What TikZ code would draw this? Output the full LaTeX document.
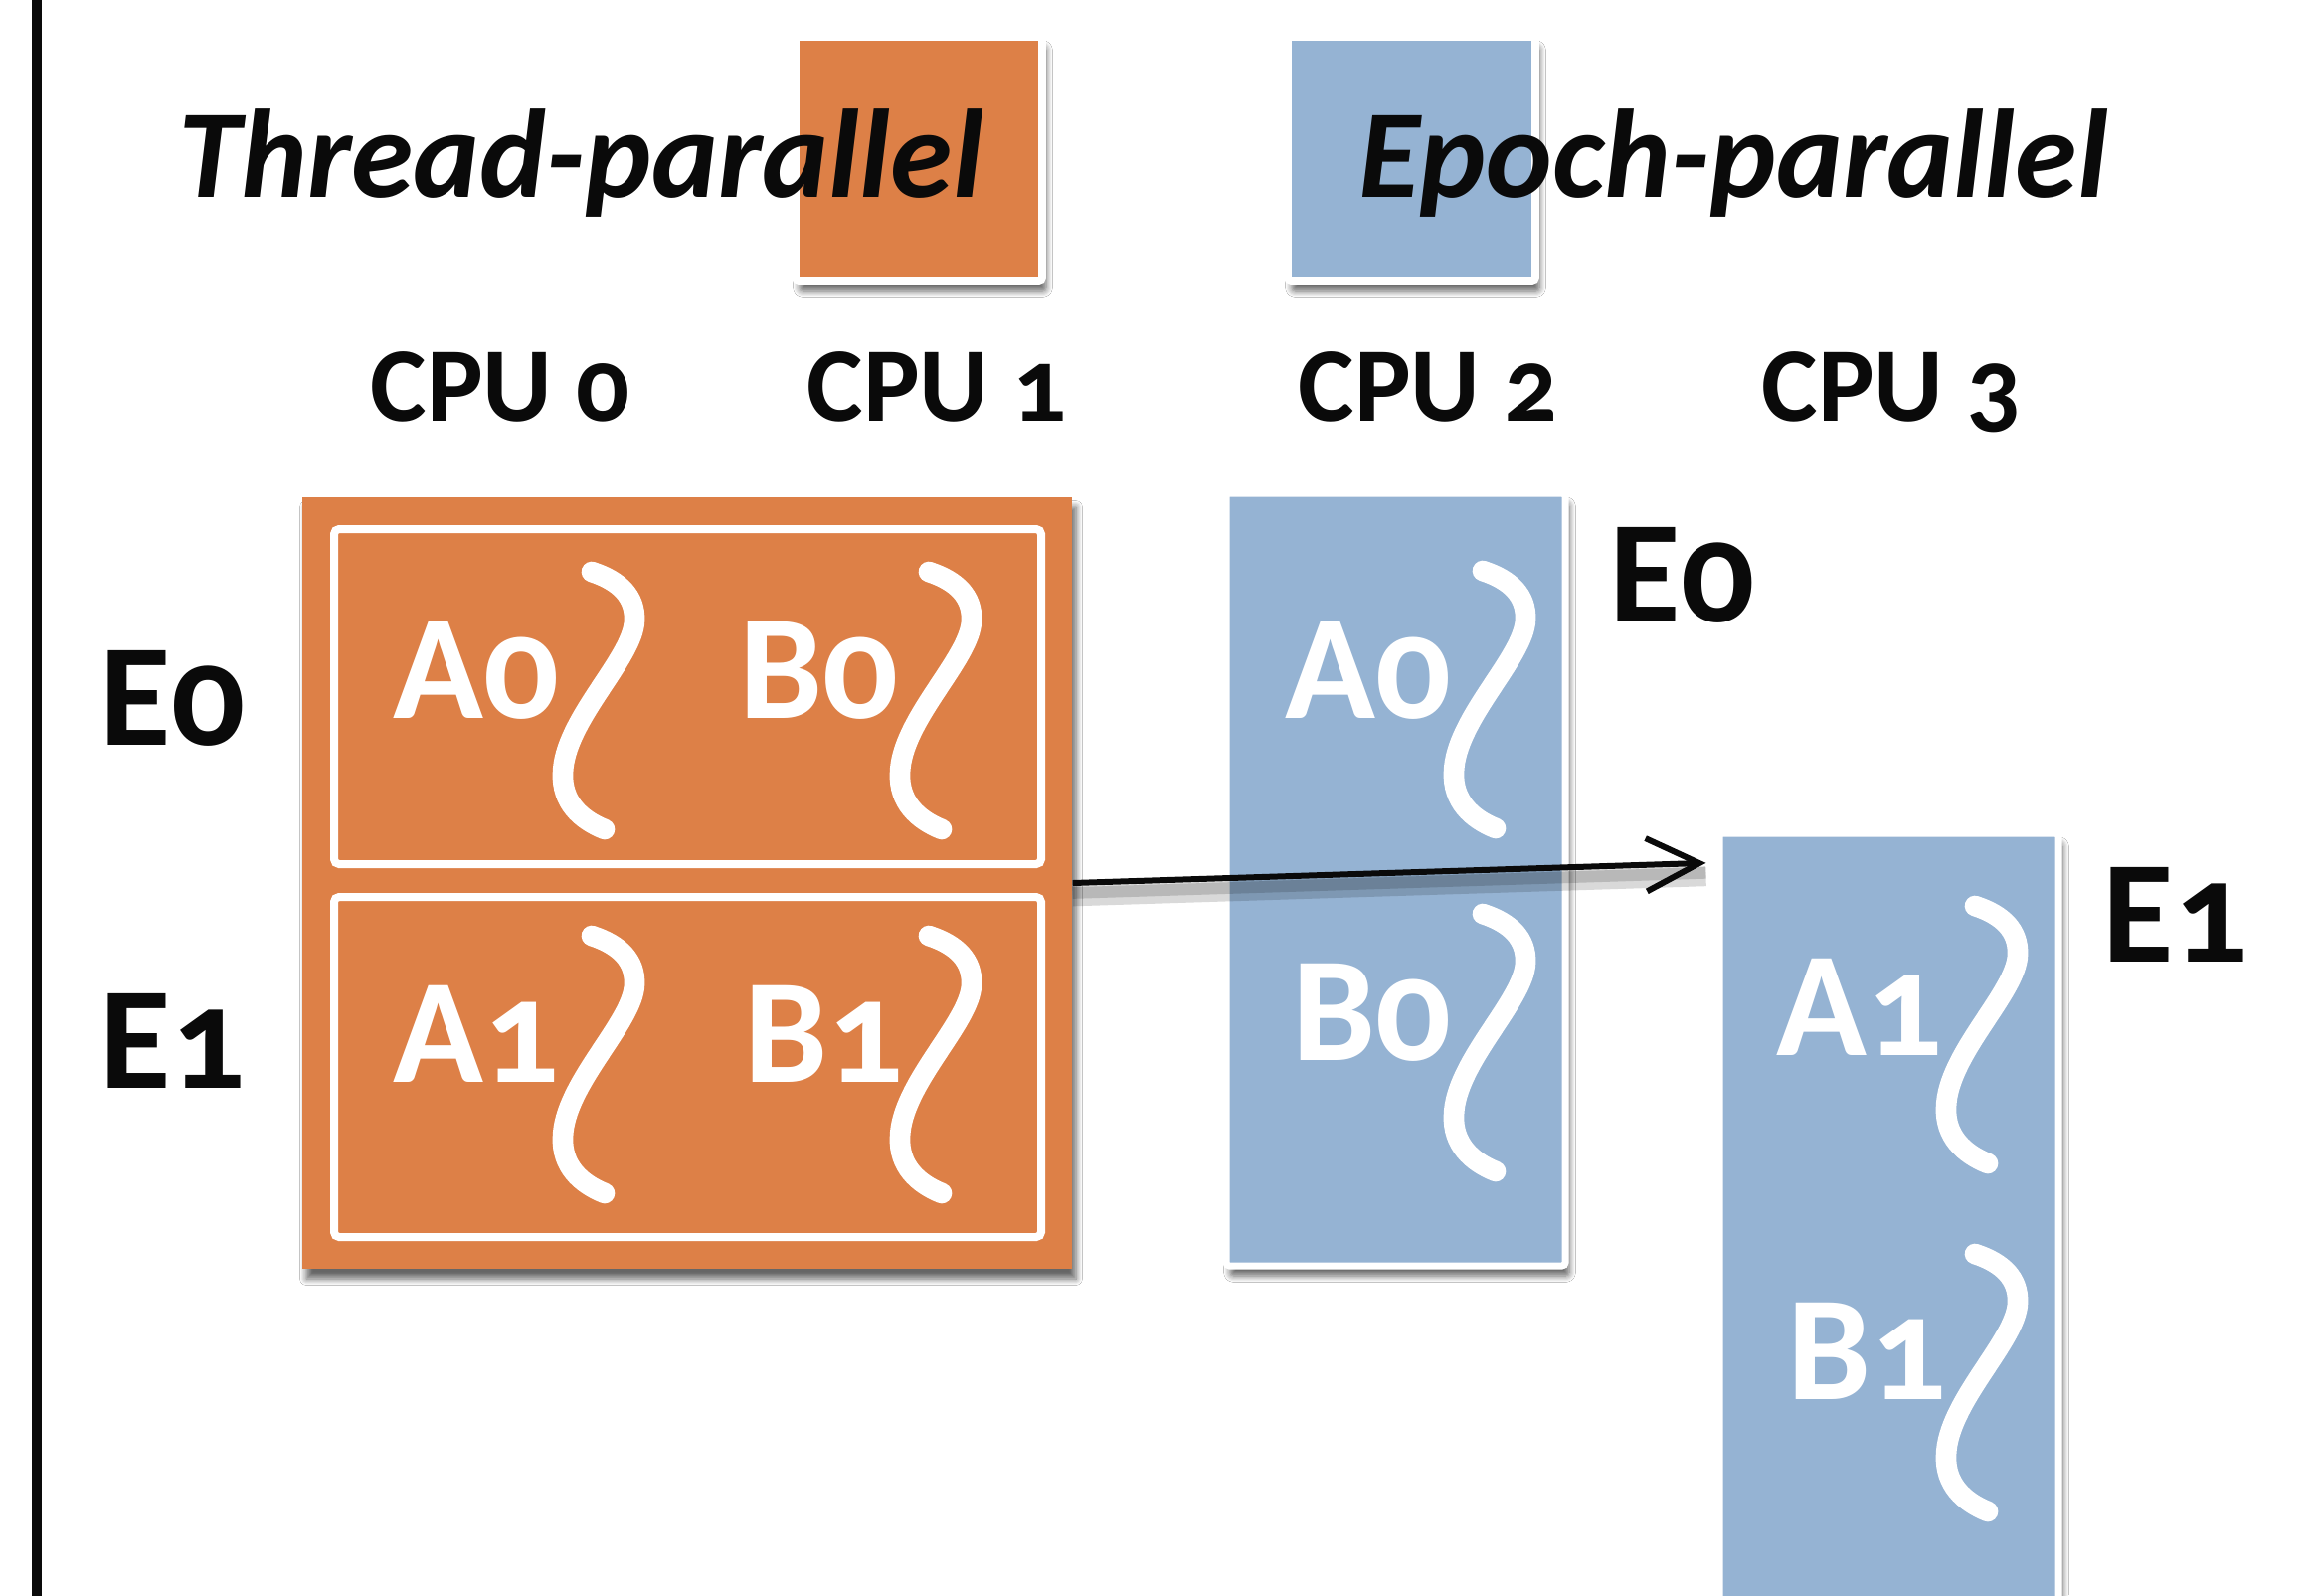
\documentclass[tikz,border=0pt]{standalone}
\usepackage{fontspec}
\setmainfont{Carlito}[Numbers=OldStyle]
\usetikzlibrary{fit,arrows.meta,shadows.blur}
\definecolor{tporange}{HTML}{DD8047}
\definecolor{epblue}{HTML}{95B3D3}
\definecolor{ink}{HTML}{0A0A0A}

\tikzset{
  softshadow/.style={blur shadow={shadow xshift=1.2pt,shadow yshift=-3pt,shadow blur steps=6,shadow opacity=60}},
  orangebox/.style={fill=tporange, inner sep=0pt, softshadow},
  bluebox/.style={fill=epblue, draw=white, line width=2.1pt, rounded corners=1pt, inner sep=0pt, softshadow},
  legendbox/.style={draw=white, line width=2.3pt, rounded corners=1pt, inner sep=0pt, softshadow},
  epochframe/.style={draw=white, line width=2.4pt, rounded corners=1.5pt, inner sep=0pt},
  title/.style={anchor=base west, inner sep=0pt, text=ink, font=\fontsize{38}{40}\selectfont\bfseries\itshape},
  cpulabel/.style={anchor=base west, inner sep=0pt, text=ink, font=\fontsize{32}{34}\selectfont\bfseries},
  epochlabel/.style={anchor=base west, inner sep=0pt, text=ink, font=\fontsize{44}{46}\selectfont\bfseries},
  tasklabel/.style={anchor=base west, inner sep=0pt, text=white, font=\fontsize{45}{47}\selectfont\bfseries},
  wave/.pic={\draw[white, line width=6.2pt, line cap=round]
     (40,11) .. controls (68,20) and (84,36) .. (83,60)
             .. controls (82,98) and (12,160) .. (11,214)
             .. controls (10,242) and (28,260) .. (53,270);},
  link/.style={draw=ink, line width=1.8pt, -{Straight Barb[length=16pt,width=16pt,line width=1.8pt]}},
  linkshade/.style={draw=black, line width=#1, opacity=0.15},
}

\begin{document}
\begin{tikzpicture}[x=0.3pt,y=-0.3pt]
\useasboundingbox[fill=white] (0,0) rectangle (2334,1604);

% margin rule on the left
\draw[ink, line width=3pt] (37,-10) coordinate (rtop) -- (37,1620) coordinate (rbot);

% legend swatches
\node[legendbox, fill=tporange, fit={(800,37) (1048,283)}] (legT) {};
\node[legendbox, fill=epblue, fit={(1295,37) (1544,283)}] (legE) {};

% titles
\node[title] (tTP) at (179,198) {Thread-parallel};
\node[title] (tEP) at (1366,198) {Epoch-parallel};

% CPU headers
\node[cpulabel] (c0) at (372,423) {CPU 0};
\node[cpulabel] (c1) at (811,423) {CPU 1};
\node[cpulabel] (c2) at (1305,423) {CPU 2};
\node[cpulabel] (c3) at (1771,423) {CPU 3};

% thread-parallel block
\node[orangebox, fit={(304,500) (1078,1276)}] (tp) {};
\node[epochframe, fit={(336,532) (1047,869)}] (tpE0) {};
\node[epochframe, fit={(336,902) (1047,1244)}] (tpE1) {};
\node[tasklabel] (tA0) at (395,722) {A0};
\node[tasklabel] (tB0) at (743,722) {B0};
\node[tasklabel] (tA1) at (395,1088) {A1};
\node[tasklabel] (tB1) at (748,1088) {B1};
\pic at (555,564) {wave};
\pic at (894,564) {wave};
\pic at (555,930) {wave};
\pic at (894,930) {wave};

\node[epochlabel] (lE0) at (100,749) {E0};
\node[epochlabel] (lE1) at (100,1094) {E1};

% epoch-parallel: epoch 0 on CPU 2
\node[bluebox, fit={(1233,496) (1574,1273)}] (ep0) {};
\node[tasklabel] (eA0) at (1292,722) {A0};
\node[tasklabel] (eB0) at (1299,1066) {B0};
\pic at (1451,563) {wave};
\pic at (1451,908) {wave};
\node[epochlabel] (rE0) at (1618,625) {E0};

% epoch-parallel: epoch 1 on CPU 3
\node[bluebox, fit={(1729,838) (2070,1680)}] (ep1) {};
\node[tasklabel] (eA1) at (1786,1061) {A1};
\node[tasklabel] (eB1) at (1797,1407) {B1};
\pic at (1946,900) {wave};
\pic at (1946,1250) {wave};
\node[epochlabel] (rE1) at (2114,967) {E1};

% checkpoint hand-off from the thread-parallel run to epoch 1
\coordinate (tgt) at ([xshift=-3pt,yshift=-10pt]ep1.north west);
\draw[linkshade=6pt, transform canvas={yshift=-4pt}] (tp.east) -- (tgt);
\draw[linkshade=3.5pt, transform canvas={yshift=-3pt}] (tp.east) -- (tgt);
\draw[link] (tp.east) -- (tgt);
\end{tikzpicture}
\end{document}
